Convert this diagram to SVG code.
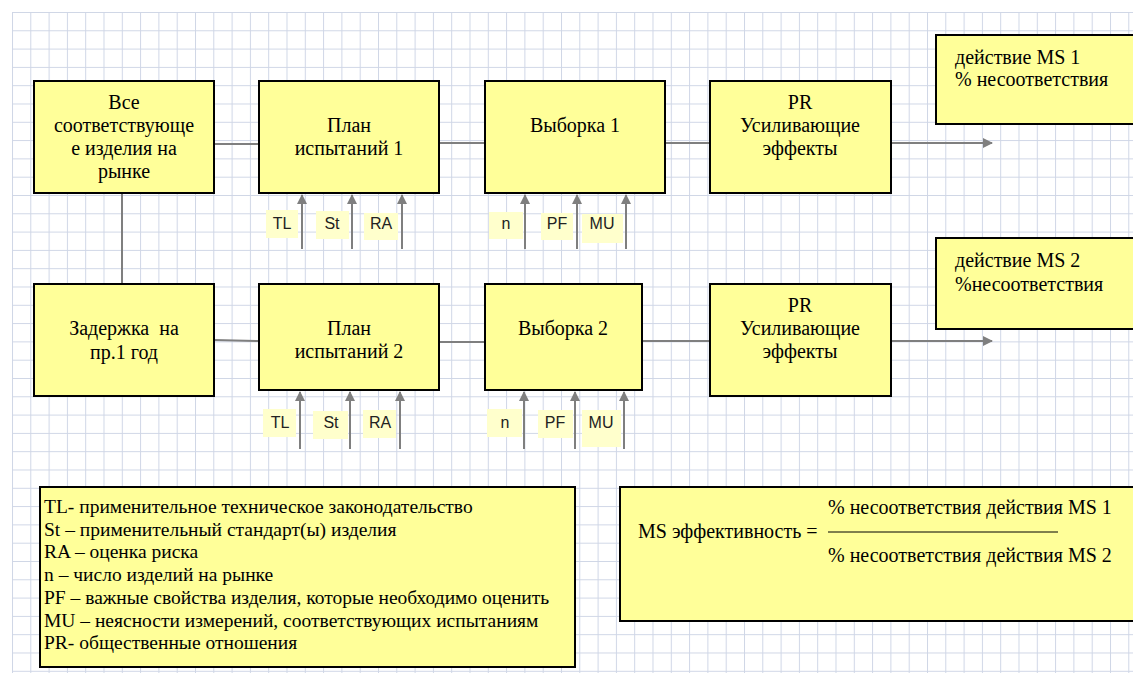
<svg xmlns="http://www.w3.org/2000/svg" width="1133" height="673" viewBox="0 0 1133 673">
<defs>
<pattern id="grid" x="12" y="12" width="18.3" height="18.3" patternUnits="userSpaceOnUse">
<path d="M0,0.5 H18.3 M0.5,0 V18.3" fill="none" stroke="#cfd6e6" stroke-width="1"/>
</pattern>
<marker id="arr" viewBox="0 0 10 10" refX="9" refY="5" markerWidth="5" markerHeight="5" orient="auto" markerUnits="strokeWidth">
<path d="M0,0 L10,5 L0,10 z" fill="#7f7f7f"/>
</marker>
<style>
.box{fill:#ffff99;stroke:#000;stroke-width:2}
.t{font-family:"Liberation Serif","Times New Roman",serif;font-size:20px;fill:#000}
.c{text-anchor:middle}
.lbl{fill:#ffffcc}
.lt{font-family:"Liberation Sans",Arial,sans-serif;font-size:16px;fill:#222;text-anchor:middle}
.ln{fill:none;stroke:#7f7f7f;stroke-width:2}
.lg{font-family:"Liberation Serif","Times New Roman",serif;font-size:19.5px;fill:#000}
.fm{font-family:"Liberation Serif","Times New Roman",serif;font-size:20px;fill:#000}
</style>
</defs>
<rect x="0" y="0" width="1133" height="673" fill="#fff"/>
<rect x="12" y="12" width="1121" height="661" fill="url(#grid)"/>

<g id="connectors">
<path class="ln" d="M214,144 H259"/>
<path class="ln" d="M439,143 H485"/>
<path class="ln" d="M665,143 H710"/>
<path class="ln" d="M891,143 H992" marker-end="url(#arr)"/>
<path class="ln" d="M122,193 V284"/>
<path class="ln" d="M214,340 L259,341"/>
<path class="ln" d="M439,342 H485"/>
<path class="ln" d="M642,341 H710"/>
<path class="ln" d="M891,341 H992" marker-end="url(#arr)"/>
<path class="ln" d="M302,249 V195" marker-end="url(#arr)"/>
<path class="ln" d="M352,249 V195" marker-end="url(#arr)"/>
<path class="ln" d="M402,249 V195" marker-end="url(#arr)"/>
<path class="ln" d="M525,249 V195" marker-end="url(#arr)"/>
<path class="ln" d="M577,249 V195" marker-end="url(#arr)"/>
<path class="ln" d="M626,249 V195" marker-end="url(#arr)"/>
<path class="ln" d="M300,449 V392" marker-end="url(#arr)"/>
<path class="ln" d="M350,449 V392" marker-end="url(#arr)"/>
<path class="ln" d="M400,449 V392" marker-end="url(#arr)"/>
<path class="ln" d="M524,449 V392" marker-end="url(#arr)"/>
<path class="ln" d="M575,449 V392" marker-end="url(#arr)"/>
<path class="ln" d="M624,449 V392" marker-end="url(#arr)"/>
</g>

<g id="labels">
<rect class="lbl" x="266" y="210" width="32" height="28"/><text class="lt" x="282" y="229">TL</text>
<rect class="lbl" x="316" y="211" width="33" height="28"/><text class="lt" x="332" y="229">St</text>
<rect class="lbl" x="364" y="213" width="34" height="27"/><text class="lt" x="381" y="229">RA</text>
<rect class="lbl" x="489" y="212" width="34" height="27"/><text class="lt" x="506" y="229">n</text>
<rect class="lbl" x="541" y="213" width="32" height="27"/><text class="lt" x="557" y="229">PF</text>
<rect class="lbl" x="582" y="214" width="41" height="29"/><text class="lt" x="602" y="229">MU</text>
<rect class="lbl" x="263" y="409" width="33" height="28"/><text class="lt" x="280" y="428">TL</text>
<rect class="lbl" x="313" y="411" width="35" height="28"/><text class="lt" x="331" y="428">St</text>
<rect class="lbl" x="363" y="410" width="33" height="28"/><text class="lt" x="380" y="428">RA</text>
<rect class="lbl" x="487" y="409" width="35" height="28"/><text class="lt" x="505" y="428">n</text>
<rect class="lbl" x="538" y="410" width="35" height="28"/><text class="lt" x="555" y="428">PF</text>
<rect class="lbl" x="582" y="410" width="39" height="37"/><text class="lt" x="601" y="428">MU</text>
</g>

<g id="all-products">
<rect class="box" x="34" y="81" width="180" height="112"/>
<text class="t c" x="124" y="109">Все</text>
<text class="t c" x="124" y="132">соответствующе</text>
<text class="t c" x="124" y="155">е изделия на</text>
<text class="t c" x="124" y="178">рынке</text>
</g>
<g id="plan1">
<rect class="box" x="259" y="81" width="180" height="112"/>
<text class="t c" x="349" y="132">План</text>
<text class="t c" x="349" y="155">испытаний 1</text>
</g>
<g id="sample1">
<rect class="box" x="485" y="81" width="180" height="112"/>
<text class="t c" x="575" y="132">Выборка 1</text>
</g>
<g id="pr1">
<rect class="box" x="710" y="81" width="181" height="112"/>
<text class="t c" x="800" y="109">PR</text>
<text class="t c" x="800" y="132">Усиливающие</text>
<text class="t c" x="800" y="155">эффекты</text>
</g>
<g id="ms1">
<rect class="box" x="936" y="35" width="200" height="89"/>
<text class="t" x="955" y="64">действие MS 1</text>
<text class="t" x="955" y="86">% несоответствия</text>
</g>

<g id="delay">
<rect class="box" x="34" y="284" width="180" height="112"/>
<text class="t c" x="124" y="335" xml:space="preserve">Задержка  на</text>
<text class="t c" x="124" y="359">пр.1 год</text>
</g>
<g id="plan2">
<rect class="box" x="259" y="284" width="180" height="106"/>
<text class="t c" x="349" y="335">План</text>
<text class="t c" x="349" y="358">испытаний 2</text>
</g>
<g id="sample2">
<rect class="box" x="485" y="284" width="157" height="106"/>
<text class="t c" x="563" y="335">Выборка 2</text>
</g>
<g id="pr2">
<rect class="box" x="710" y="284" width="181" height="112"/>
<text class="t c" x="800" y="312">PR</text>
<text class="t c" x="800" y="335">Усиливающие</text>
<text class="t c" x="800" y="358">эффекты</text>
</g>
<g id="ms2">
<rect class="box" x="936" y="238" width="200" height="91"/>
<text class="t" x="955" y="267">действие MS 2</text>
<text class="t" x="955" y="291">%несоответствия</text>
</g>

<g id="legend">
<rect class="box" x="40" y="487" width="535" height="180"/>
<text class="lg" x="44" y="513">TL- применительное техническое законодательство</text>
<text class="lg" x="44" y="536">St – применительный стандарт(ы) изделия</text>
<text class="lg" x="44" y="558">RA – оценка риска</text>
<text class="lg" x="44" y="581">n – число изделий на рынке</text>
<text class="lg" x="44" y="604">PF – важные свойства изделия, которые необходимо оценить</text>
<text class="lg" x="44" y="627">MU – неясности измерений, соответствующих испытаниям</text>
<text class="lg" x="44" y="649">PR- общественные отношения</text>
</g>

<g id="formula">
<rect class="box" x="620" y="487" width="515" height="134"/>
<text class="fm" x="638" y="538">MS эффективность =</text>
<text class="fm" x="828" y="514">% несоответствия действия MS 1</text>
<line x1="828" y1="532" x2="1058" y2="532" stroke="#000" stroke-width="1"/>
<text class="fm" x="828" y="562">% несоответствия действия MS 2</text>
</g>
</svg>
